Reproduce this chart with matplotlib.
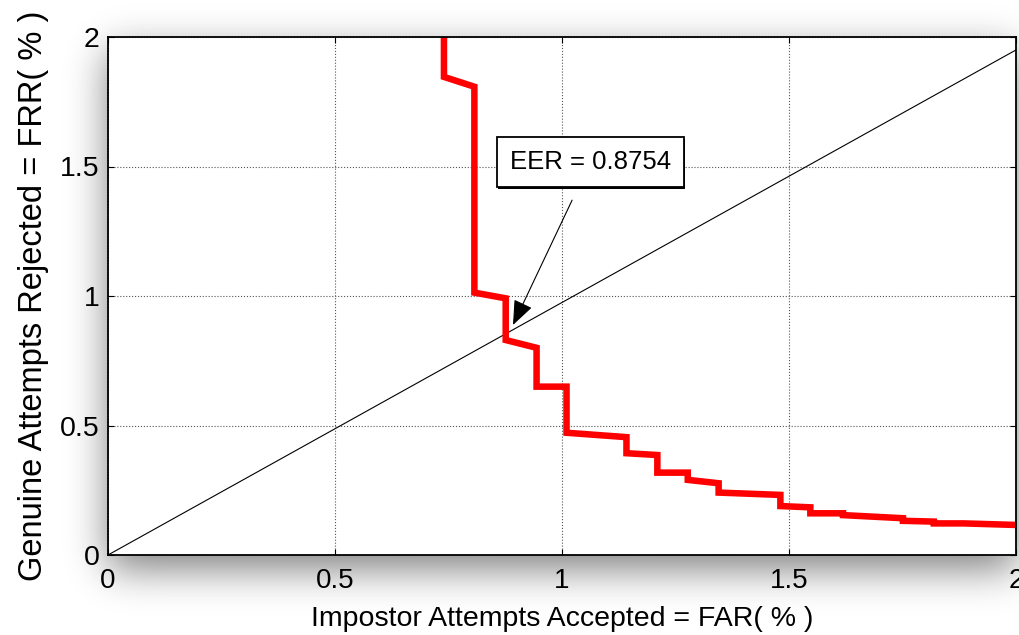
import numpy as np
import matplotlib
matplotlib.use('Agg')
import matplotlib.pyplot as plt
import matplotlib.patheffects as pe

# FAR / FRR step curve (percent)
far = [0.740, 0.740, 0.807, 0.807, 0.876, 0.876, 0.944, 0.944, 1.010, 1.010,
       1.142, 1.142, 1.210, 1.210, 1.277, 1.277, 1.345, 1.345, 1.481, 1.481,
       1.547, 1.547, 1.619, 1.619, 1.751, 1.751, 1.819, 1.819, 1.885, 2.000]
frr = [2.100, 1.846, 1.808, 1.013, 0.991, 0.830, 0.800, 0.650, 0.650, 0.472,
       0.455, 0.393, 0.386, 0.318, 0.318, 0.290, 0.277, 0.241, 0.232, 0.189,
       0.184, 0.161, 0.161, 0.154, 0.142, 0.132, 0.129, 0.122, 0.122, 0.116]

# reference diagonal
diag_x = [0.0, 2.0]
diag_y = [0.0, 1.95]

eer_label = 'EER = 0.8754'
eer_point = (0.892, 0.888)
eer_text_pos = (1.062, 1.517)

ticks = [0, 0.5, 1, 1.5, 2]
tick_labels = ['0', '0.5', '1', '1.5', '2']

plt.rcParams['font.family'] = ['Liberation Sans', 'DejaVu Sans']

W, H = 1019, 635
fig = plt.figure(figsize=(W / 100, H / 100), dpi=100)

# soft drop shadow behind the axes box
ax_l, ax_r, ax_t, ax_b = 108, 1016, 37, 555
def soft_edge(n, lo, hi, sigma):
    ind = np.zeros(n)
    ind[max(lo, 0):min(hi, n)] = 1.0
    k = np.arange(-3 * sigma, 3 * sigma + 1)
    k = np.exp(-0.5 * (k / sigma) ** 2)
    k /= k.sum()
    return np.convolve(ind, k, mode='same')

sig = 20
gx = soft_edge(W, ax_l, ax_r, sig)
gy = soft_edge(H, ax_t + 14, ax_b + 14, sig)
shade = 1 - 0.5 * np.outer(gy, gx)
bg = fig.add_axes([0, 0, 1, 1], zorder=-10)
bg.imshow(shade, cmap='gray', vmin=0, vmax=1, aspect='auto', interpolation='bilinear')
bg.axis('off')

ax = fig.add_axes([ax_l / W, 1 - ax_b / H, (ax_r - ax_l) / W, (ax_b - ax_t) / H])
ax.set_facecolor('white')

ax.plot(diag_x, diag_y, color='black', lw=0.8)
ax.plot(far, frr, color='#ff0000', lw=4.7, solid_joinstyle='miter')

ax.set_xlim(0, 2)
ax.set_ylim(0, 2)
ax.set_xticks(ticks)
ax.set_yticks(ticks)
ax.set_xticklabels(tick_labels, fontsize=20)
ax.set_yticklabels(tick_labels, fontsize=20.5)
ax.tick_params(direction='in', length=4, width=0.8, top=True, right=True)
ax.tick_params(axis='x', pad=9)
ax.tick_params(axis='y', pad=6)
ax.grid(True, linestyle=':', color='#555555', lw=0.8)
for s in ax.spines.values():
    s.set_linewidth(1.3)

ax.set_xlabel('Impostor Attempts Accepted = FAR( % )', fontsize=20.5, labelpad=9)
ax.set_ylabel('Genuine Attempts Rejected = FRR( % )', fontsize=23.5, labelpad=8)

ann = ax.annotate(eer_label, xy=eer_point, xytext=eer_text_pos,
                  ha='center', va='center', fontsize=18.5,
                  bbox=dict(boxstyle='square,pad=0.5', fc='white', ec='black', lw=1.3),
                  arrowprops=dict(arrowstyle='-|>,head_length=0.7,head_width=0.28',
                                  color='black', lw=0.8,
                                  mutation_scale=22, shrinkA=10, shrinkB=0))
ann.get_bbox_patch().set_path_effects(
    [pe.SimplePatchShadow(offset=(1.2, -1.2), shadow_rgbFace='black', alpha=1), pe.Normal()])

fig.savefig('out.png', dpi=100)
